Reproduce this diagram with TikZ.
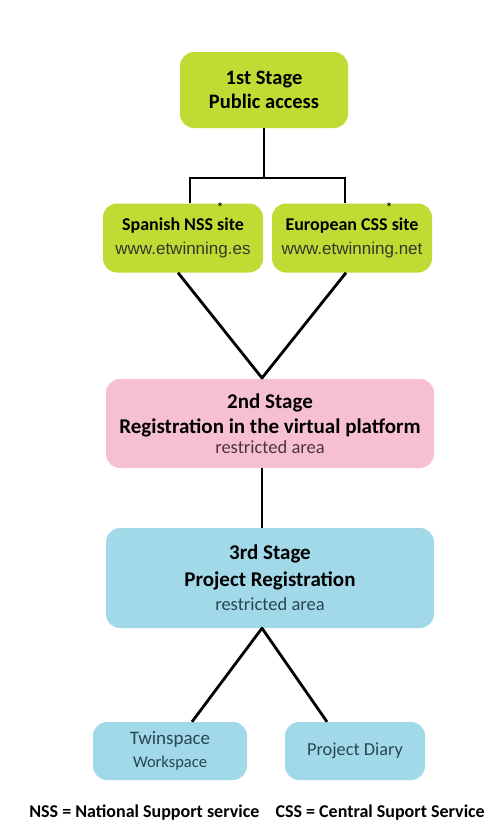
\documentclass[tikz,border=0pt]{standalone}
\usepackage{fontspec}
\setmainfont{Carlito}
\newfontfamily\arialf{Liberation Sans}
\usetikzlibrary{calc}
\definecolor{lime}{RGB}{190,220,52}
\definecolor{pinkb}{RGB}{247,192,210}
\definecolor{blueb}{RGB}{162,217,232}
\definecolor{pinktxt}{RGB}{80,50,65}
\definecolor{bluetxt}{RGB}{40,70,82}
\definecolor{urltxt}{RGB}{50,55,40}
\begin{document}
\begin{tikzpicture}[x=1pt,y=-1pt,
  box/.style={rounded corners=14pt,inner sep=0pt,align=center},
  site/.style={box,fill=lime,minimum width=160pt,minimum height=69pt,font=\fontsize{17}{24}\selectfont},
  star/.style={font=\bfseries\fontsize{12}{12}\selectfont,inner sep=0pt},
  conn/.style={draw=black,line width=2.8pt}]
\useasboundingbox[fill=white] (0,0) rectangle (491,825);
\node[box,fill=lime,minimum width=168pt,minimum height=76pt,font=\bfseries\fontsize{20.5}{24}\selectfont] (b1) at (264,90) {1st Stage\\ Public access};
\node[site] (nss) at (183,238) {{\bfseries\fontsize{18}{24}\selectfont Spanish NSS site}\\{\arialf\color{urltxt}\fontsize{17}{24}\selectfont www.etwinning.es}};
\node[site] (css) at (352,238) {{\bfseries\fontsize{18}{24}\selectfont European CSS site}\\{\arialf\color{urltxt}\fontsize{17}{24}\selectfont www.etwinning.net}};
\node[star] (a1) at (220,207) {*};
\node[star] (a2) at (389,207) {*};
\node[box,fill=pinkb,minimum width=328pt,minimum height=89pt,font=\bfseries\fontsize{21}{25}\selectfont] (b2) at (270,423.5) {2nd Stage\\ Registration in the virtual platform\\[-5pt]\mdseries\color{pinktxt}\fontsize{18.5}{20}\selectfont restricted area};
\node[box,fill=blueb,minimum width=328pt,minimum height=100pt,font=\bfseries\fontsize{21}{27}\selectfont] (b3) at (270,578) {3rd Stage\\ Project Registration\\[-3pt]\mdseries\color{bluetxt}\fontsize{18.5}{24}\selectfont restricted area};
\node[box,fill=blueb,minimum width=154pt,minimum height=58pt,text=bluetxt,font=\fontsize{17}{23}\selectfont] (tw) at (170,751) {{\fontsize{19}{23}\selectfont Twinspace}\\{\fontsize{16.5}{23}\selectfont Workspace}};
\node[box,fill=blueb,minimum width=140pt,minimum height=58pt,text=bluetxt,font=\fontsize{18.3}{22}\selectfont] (pd) at (355,751) {Project Diary};
\node[font=\bfseries\fontsize{18}{20}\selectfont,inner sep=0pt] (fn) at (257,813) {NSS = National Support service\hspace{0.9em}CSS = Central Suport Service};
\coordinate (j) at (264,178);
\coordinate (jl) at (190,178);
\coordinate (jr) at (345,178);
\draw[conn] (b1.south) -- (j);
\draw[conn,line join=miter] (jl |- nss.north) -- (jl) -- (jr) -- (jr |- css.north);
\coordinate (m2) at (262,378);
\draw[conn,line join=round] ($(nss.south)+(-5,0)$) -- (m2) -- ($(css.south)+(-6,0)$);
\draw[conn] (b2.south -| m2) -- (b3.north -| m2);
\draw[conn,line join=round] ($(tw.north)+(22,0)$) -- (b3.south -| m2) -- ($(pd.north)+(-28,0)$);
\end{tikzpicture}
\end{document}
